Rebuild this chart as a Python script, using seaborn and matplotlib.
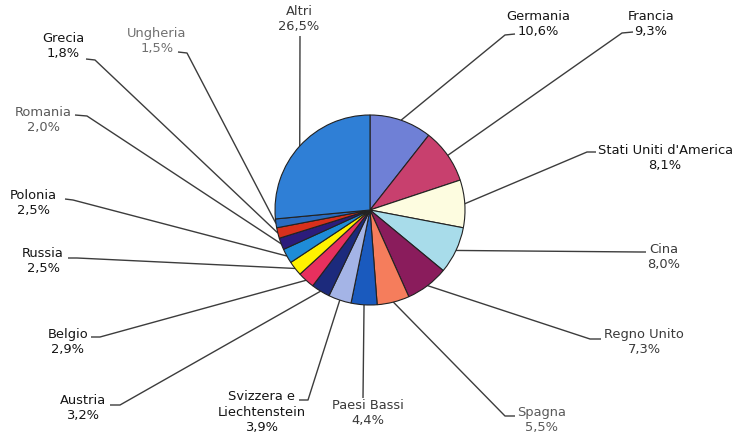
import numpy as np
import matplotlib
matplotlib.use("Agg")
import matplotlib.pyplot as plt
import seaborn as sns

# Share by country, clockwise from the top
countries = ["Germania", "Francia", "Stati Uniti d'America", "Cina", "Regno Unito",
             "Spagna", "Paesi Bassi", "Svizzera e\nLiechtenstein", "Austria", "Belgio",
             "Russia", "Polonia", "Romania", "Grecia", "Ungheria", "Altri"]
shares = [10.6, 9.3, 8.1, 8.0, 7.3, 5.5, 4.4, 3.9, 3.2, 2.9, 2.5, 2.5, 2.0, 1.8, 1.5, 26.5]
slice_colors = ["#6f80d6", "#c8406e", "#fdfce0", "#a8dcea", "#8a1c5c", "#f57d5c",
                "#1a5abe", "#a4b4e6", "#1c2a7c", "#e8305e", "#fff200", "#1e8cd8",
                "#2c1c7c", "#d8301c", "#2a6cc0", "#2f7fd6"]

# Label layout in pixel space: text centre and where the leader line starts / bends
text_xy = [(538, 24), (651, 24), (665, 158), (664, 257), (644, 342),
           (542, 420), (368, 413), (262, 412), (83, 408), (68, 342),
           (43, 261), (33, 203), (43, 120), (63, 46), (157, 41), (299, 19)]
tick_start = [(515, 34), (633, 32), (596, 152), (646, 252), (601, 339),
              (515, 416), (363, 398), (299, 400), (110, 405), (91, 337),
              (68, 258), (65, 199), (75, 115), (86, 59), (178, 52), (300, 36)]
tick_end = [(505, 35), (622, 33), (587, 152), (640, 252), (590, 339),
            (505, 416), (363, 398), (308, 400), (120, 405), (100, 337),
            (77, 258), (73, 200), (87, 116), (95, 60), (187, 53), (300, 36)]
text_colors = ["#151515", "#151515", "#151515", "#3a3a3a", "#3a3a3a",
               "#5a5a5a", "#3a3a3a", "#151515", "#151515", "#151515",
               "#151515", "#151515", "#5a5a5a", "#151515", "#707070", "#3a3a3a"]

sns.set_theme(style="white")
plt.rcParams["font.family"] = ["DejaVu Sans"]

W, H = 734, 437
fig = plt.figure(figsize=(W / 100, H / 100), dpi=100)
ax = fig.add_axes([0, 0, 1, 1])
ax.set_xlim(0, W)
ax.set_ylim(H, 0)
ax.set_aspect("equal")
ax.axis("off")

cx, cy, r = 370, 210, 95
wedges, _ = ax.pie(shares, colors=slice_colors, center=(cx, cy), radius=r,
                   startangle=-90, counterclock=True,
                   wedgeprops=dict(edgecolor="#222222", linewidth=0.8),
                   frame=True)
ax.set_xlim(0, W)
ax.set_ylim(H, 0)
ax.axis("off")

for w, name, val, txy, ts, te, tc in zip(wedges, countries, shares, text_xy,
                                         tick_start, tick_end, text_colors):
    mid = np.deg2rad((w.theta1 + w.theta2) / 2)
    px, py = cx + r * np.cos(mid), cy + r * np.sin(mid)
    ax.plot([ts[0], te[0], px], [ts[1], te[1], py], color="#3c3c3c",
            linewidth=1.0, zorder=0, solid_capstyle="butt")
    label = f"{name}\n{val:.1f}%".replace(".", ",")
    ax.text(txy[0], txy[1], label, ha="center", va="center", fontsize=9.4,
            color=tc, multialignment="center", linespacing=1.2)

fig.savefig("out.png", dpi=100, facecolor="white")
